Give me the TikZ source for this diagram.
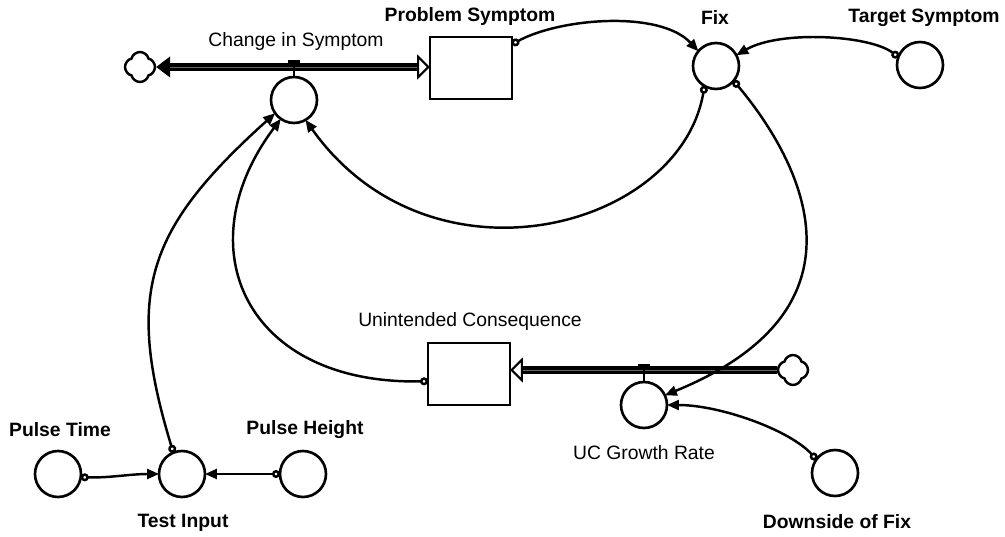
\documentclass[tikz,border=0pt]{standalone}
\usepackage{fontspec}
\setmainfont{Liberation Sans}
\usepackage{tikz}
\usetikzlibrary{arrows.meta, shapes.symbols, calc}

\begin{document}
\begin{tikzpicture}[x=0.02cm, y=-0.02cm, font=\fontsize{11}{13}\selectfont,
    conv/.style={circle, draw, line width=1.5pt, minimum size=0.92cm,
        inner sep=0pt, outer sep=0pt},
    stock/.style={rectangle, draw, line width=1.5pt, minimum width=1.64cm,
        minimum height=1.24cm, inner sep=0pt, outer sep=0pt},
    src/.style={cloud, cloud puffs=4, aspect=1, draw, line width=1.4pt,
        minimum size=0.6cm, inner sep=0pt},
    lbl/.style={inner sep=0pt},
    lblb/.style={inner sep=0pt, font=\fontsize{11}{13}\selectfont\bfseries},
    link/.style={line width=1.4pt,
        {Circle[length=0.16cm, fill=white, line width=1.4pt]}-{Triangle[length=0.24cm, width=0.2cm]}},
    pipe/.style={line width=1.9pt, double=black!60, double distance=0.5pt},
    valve/.style={line width=1.4pt},
    valvebar/.style={line width=2.6pt}
]
\useasboundingbox (0,0) rectangle (1005,537);
% stocks
\node[stock] (ps) at (471,68) {};
\node[stock] (uc) at (469,374) {};
% converters
\node[conv] (chg) at (294,100) {};
\node[conv] (fix) at (716,66) {};
\node[conv] (tgt) at (920,65) {};
\node[conv] (ucg) at (644,405) {};
\node[conv] (dwn) at (835,473) {};
\node[conv] (pt) at (58,474) {};
\node[conv] (ti) at (182,474) {};
\node[conv] (ph) at (303,474) {};
% clouds
\node[src] (cl) at (140,67) {};
\node[src] (cr) at (793,370) {};
% labels
\node[lbl] (lchg) at (296,42) {Change in Symptom};
\node[lblb] (lps) at (470,17) {Problem Symptom};
\node[lblb] (lfix) at (715,18) {Fix};
\node[lblb] (ltgt) at (924,18) {Target Symptom};
\node[lbl] (luc) at (470,322) {Unintended Consequence};
\node[lbl] (lucg) at (644,453) {UC Growth Rate};
\node[lblb] (ldwn) at (837,522) {Downside of Fix};
\node[lblb] (lpt) at (60,430) {Pulse Time};
\node[lblb] (lph) at (305,430) {Pulse Height};
\node[lblb] (lti) at (183,523) {Test Input};
% flows
\draw[pipe, {Triangle[length=0.28cm, width=0.42cm, line width=0.6pt]}-{Triangle[length=0.26cm, width=0.5cm, fill=white, line width=1.2pt]}]
    (cl.east) -- (cl.east -| ps.west);
\draw[pipe, -{Triangle[length=0.26cm, width=0.5cm, fill=white, line width=1.2pt]}]
    (cr.west) -- (cr.west -| uc.east);
% valves
\coordinate (vchg) at ($(chg.north)+(0,-15)$);
\coordinate (vucg) at ($(ucg.north)+(0,-16)$);
\draw[valve] (vchg) -- (chg.north);
\draw[valvebar] ($(vchg)+(-6,0)$) -- ($(vchg)+(6,0)$);
\draw[valve] (vucg) -- (ucg.north);
\draw[valvebar] ($(vucg)+(-6,0)$) -- ($(vucg)+(6,0)$);
% connectors
\draw[link] (ps.30) .. controls (560,18) and (660,10) .. (fix.140);
\draw[link] (tgt.160) .. controls (870,35) and (780,30) .. (fix.28);
\draw[link] (fix.240) .. controls (680,230) and (430,295) .. (chg.300);
\draw[link] (fix.320) .. controls (785,142) and (893,302) .. (ucg.25);
\draw[link] (uc.190) .. controls (246,385) and (184,248) .. (chg.235);
\draw[link] (ti.112) .. controls (124,291) and (148,228) .. (chg.215);
\draw[link] (pt.352) .. controls (110,478) and (130,474) .. (ti.180);
\draw[link] (ph.180) -- (ti.0);
\draw[link] (dwn.144) .. controls (790,430) and (720,405) .. (ucg.0);
\end{tikzpicture}
\end{document}
